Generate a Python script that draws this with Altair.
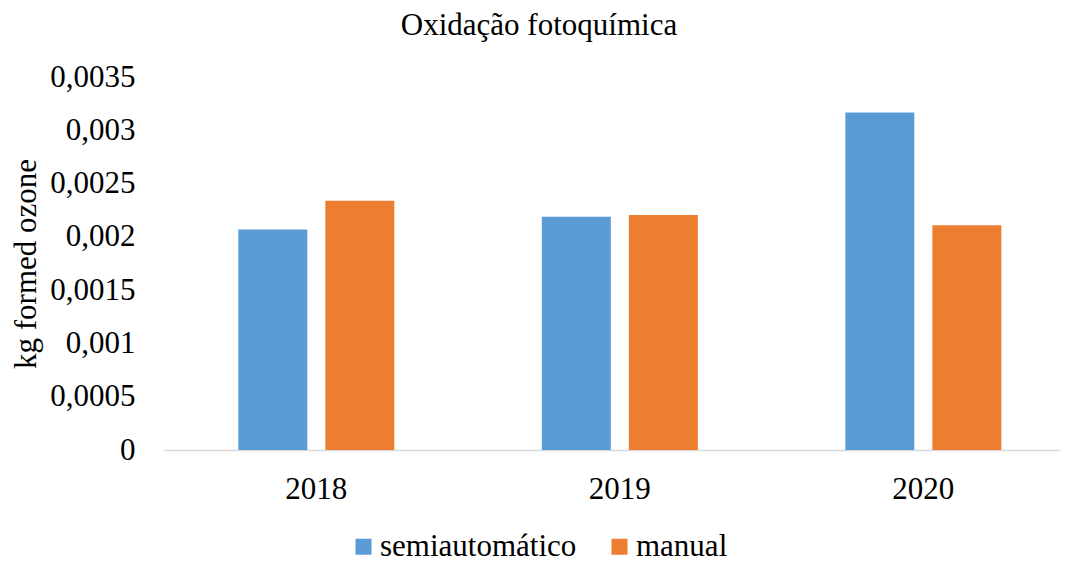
import altair as alt
import pandas as pd

years = ["2018", "2019", "2020"]
series = ["semiautomático", "manual"]
semi_vals = [0.002068, 0.002189, 0.003168]
manual_vals = [0.002339, 0.002204, 0.002108]
y_ticks = [0, 0.0005, 0.001, 0.0015, 0.002, 0.0025, 0.003, 0.0035]
colors = ["#5B9BD5", "#ED7D31"]

rows = []
for i, y in enumerate(years):
    rows.append({"ano": y, "serie": series[0], "valor": semi_vals[i]})
    rows.append({"ano": y, "serie": series[1], "valor": manual_vals[i]})
df = pd.DataFrame(rows)

FONT = "Liberation Serif"
W, H = 896, 373

chart = alt.Chart(df).mark_bar().encode(
    x=alt.X("ano:N", sort=years,
            scale=alt.Scale(paddingInner=0.486, paddingOuter=0.219, align=0.559),
            axis=alt.Axis(title=None, labelAngle=0, ticks=False, domainColor="#d9d9d9",
                          domainWidth=1.5, labelFontSize=31, labelPadding=24,
                          labelColor="black", labelFont=FONT)),
    xOffset=alt.XOffset("serie:N", sort=series,
                        scale=alt.Scale(paddingInner=0.207, paddingOuter=0)),
    y=alt.Y("valor:Q", scale=alt.Scale(domain=[0, 0.0035], nice=False),
            axis=alt.Axis(title="kg formed ozone", values=y_ticks, grid=False,
                          domain=False, ticks=False, labelPadding=29,
                          labelFontSize=31, labelColor="black", labelFont=FONT,
                          labelExpr="replace(toString(datum.value), '.', ',')",
                          titleFontSize=31, titleFont=FONT, titleFontWeight="normal",
                          titleColor="black", titlePadding=7)),
    color=alt.Color("serie:N", sort=series,
                    scale=alt.Scale(domain=series, range=colors),
                    legend=alt.Legend(title=None, orient="none", direction="horizontal",
                                      legendX=184, legendY=454,
                                      symbolType="square", symbolSize=256,
                                      symbolStrokeWidth=0, symbolOpacity=1,
                                      labelFont=FONT, labelFontSize=31, labelLimit=0,
                                      labelColor="black", labelOffset=1,
                                      columnPadding=27)),
).properties(
    width=W, height=H,
    title=alt.TitleParams("Oxidação fotoquímica", font=FONT, fontSize=31,
                          fontWeight="normal", color="black", anchor="middle",
                          frame="group", dx=-73, offset=19),
    autosize=alt.AutoSizeParams(type="none"),
    padding={"left": 156, "top": 69, "right": 1, "bottom": 112},
).configure(font=FONT).configure_axis(
    labelFont=FONT, titleFont=FONT
).configure_legend(labelFont=FONT).configure_view(stroke=None)

chart.save("out.html", embed_options={"renderer": "svg", "actions": False})
